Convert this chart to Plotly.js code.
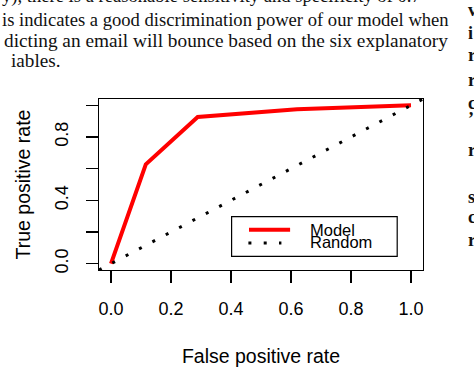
<!DOCTYPE html>
<html>
<head>
<meta charset="utf-8">
<script src="https://cdn.plot.ly/plotly-3.0.1.min.js"></script>
<style>
  html, body { margin: 0; padding: 0; background: #fff; }
  #chart { width: 474px; height: 374px; }
</style>
</head>
<body>
<div id="chart"></div>
<script>
// ROC curve data
const fpr = [0, 0.116, 0.289, 0.62, 1.0];
const tpr = [0, 0.627, 0.926, 0.975, 1.0];
// random classifier reference line (abline 0,1 across the plot region)
const randX = [-0.04, 1.04];
const randY = [-0.04, 1.04];
const xTickVals = [0, 0.2, 0.4, 0.6, 0.8, 1.0];
const xTickText = ['0.0', '0.2', '0.4', '0.6', '0.8', '1.0'];
const yTickVals = [0, 0.2, 0.4, 0.6, 0.8, 1.0];
const yTickText = ['0.0', '', '0.4', '', '0.8', ''];
const seriesNames = ['Model', 'Random'];
const xTitle = 'False positive rate';
const yTitle = 'True positive rate';
// surrounding page text (cropped paper)
const pageLines = [
  'y), there is a reasonable sensitivity and specificity of 0.7',
  'is indicates a good discrimination power of our model when',
  'dicting an email will bounce based on the six explanatory',
  'iables.'
];
const sideLetters = ['v', 'i', 'r', 'r', 'c', '\u2019', 'r', 's', 'c', 'r'];

const W = 474, H = 374;
const M = {l: 99, r: 51, t: 99, b: 103.5};
const pw = W - M.l - M.r, ph = H - M.t - M.b;
const px = v => (v - M.l) / pw;          // pixel x -> paper x
const py = v => (H - M.b - v) / ph;      // pixel y -> paper y

const traces = [
  {x: fpr, y: tpr, type: 'scatter', mode: 'lines', name: seriesNames[0],
   line: {color: '#ff0000', width: 4}, cliponaxis: true, showlegend: false},
  {x: randX, y: randY, type: 'scatter', mode: 'lines', name: seriesNames[1],
   line: {color: '#000000', width: 3, dash: '3px,12.1px'}, cliponaxis: true, showlegend: false}
];

const serif = 'Liberation Serif, Times New Roman, serif';
const sans = 'Liberation Sans, Arial, Helvetica, sans-serif';

const annotations = [];
const lineCenters = [-4.5, 18.8, 40.8, 60.8];
const lineX = [0, 0, 2, 9];
const lineSizes = [18.6, 18.6, 19.3, 19.2];
pageLines.forEach((t, i) => {
  annotations.push({text: t, xref: 'paper', yref: 'paper', x: px(lineX[i]), y: py(lineCenters[i]),
    xanchor: 'left', yanchor: 'middle', showarrow: false,
    font: {family: serif, size: lineSizes[i], color: '#111'}});
});
const sideY = [10, 33, 55, 80, 103, 119, 150, 197, 217, 240];
sideLetters.forEach((t, i) => {
  annotations.push({text: '<b>' + t + '</b>', xref: 'paper', yref: 'paper', x: px(466), y: py(sideY[i]),
    xanchor: 'left', yanchor: 'middle', showarrow: false,
    font: {family: serif, size: 18, color: '#111'}});
});
// legend labels
annotations.push({text: seriesNames[0], xref: 'x', yref: 'y', x: 0.657, y: 0.215,
  xanchor: 'left', yanchor: 'middle', showarrow: false, font: {family: sans, size: 16.5, color: '#000'}});
annotations.push({text: seriesNames[1], xref: 'x', yref: 'y', x: 0.657, y: 0.135,
  xanchor: 'left', yanchor: 'middle', showarrow: false, font: {family: sans, size: 16.5, color: '#000'}});

const shapes = [
  {type: 'rect', xref: 'x', yref: 'y', x0: 0.402, x1: 0.954, y0: 0.046, y1: 0.297,
   line: {color: '#000', width: 1.2}, fillcolor: 'rgba(255,255,255,0)'},
  {type: 'line', xref: 'x', yref: 'y', x0: 0.46, x1: 0.597, y0: 0.214, y1: 0.214,
   line: {color: '#ff0000', width: 4}},
  {type: 'line', xref: 'x', yref: 'y', x0: 0.458, x1: 0.568, y0: 0.130, y1: 0.130,
   line: {color: '#000', width: 3, dash: '3px,12.3px'}}
];

const axisCommon = {
  range: [-0.04, 1.04], showline: true, mirror: true, linecolor: '#000', linewidth: 1.3,
  ticks: 'outside', ticklen: 12, tickwidth: 1.2, tickcolor: '#000',
  showgrid: false, zeroline: false, automargin: false,
  tickfont: {family: sans, size: 18, color: '#000'}
};

const layout = {
  width: W, height: H,
  margin: M,
  paper_bgcolor: '#fff', plot_bgcolor: '#fff',
  showlegend: false,
  xaxis: Object.assign({}, axisCommon, {
    tickmode: 'array', tickvals: xTickVals, ticktext: xTickText, ticklabelstandoff: 10,
    title: {text: xTitle, font: {family: sans, size: 19.5, color: '#000'}, standoff: 31}
  }),
  yaxis: Object.assign({}, axisCommon, {
    tickmode: 'array', tickvals: yTickVals, ticktext: yTickText, tickangle: -90, ticklabelstandoff: 11,
    title: {text: yTitle, font: {family: sans, size: 19.5, color: '#000'}, standoff: 15}
  }),
  annotations: annotations,
  shapes: shapes
};

Plotly.newPlot('chart', traces, layout, {staticPlot: true, displayModeBar: false});
</script>
</body>
</html>
